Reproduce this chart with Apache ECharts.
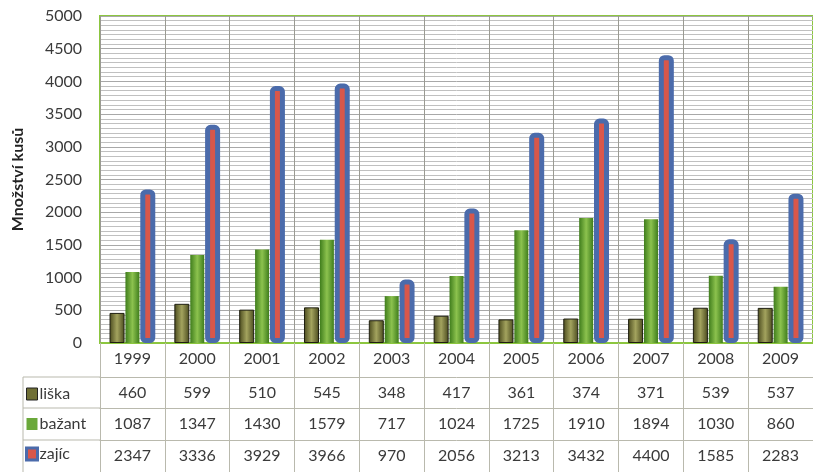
<!DOCTYPE html>
<html><head><meta charset="utf-8">
<script src="https://cdn.jsdelivr.net/npm/echarts@6/dist/echarts.min.js"></script>
<style>html,body{margin:0;padding:0;background:#fff}#c{width:813px;height:472px}</style>
</head><body><div id="c"></div>
<script>
var years = ['1999','2000','2001','2002','2003','2004','2005','2006','2007','2008','2009'];
var liska = [460,599,510,545,348,417,361,374,371,539,537];
var bazant = [1087,1347,1430,1579,717,1024,1725,1910,1894,1030,860];
var zajic = [2347,3336,3929,3966,970,2056,3213,3432,4400,1585,2283];
var seriesNames = ['liška','bažant','zajíc'];
var yTitle = 'Množství kusů';

var FONT = 'Lato';
var TXT = '#3a3a3a';
var TABLE_LINE = '#b9b9ad';

function grad(edge, mid){
  return new echarts.graphic.LinearGradient(0,0,1,0,[
    {offset:0,color:edge},{offset:0.5,color:mid},{offset:1,color:edge}]);
}

function tableAxis(values, offset){
  return {
    type:'category', gridIndex:0, position:'bottom', offset:offset,
    data: values.map(String), boundaryGap:true,
    axisLine:{show:true, lineStyle:{color:TABLE_LINE, width:1}},
    axisTick:{show:false}, splitLine:{show:false},
    axisLabel:{interval:0, margin:8, color:TXT, fontFamily:FONT, fontSize:16}
  };
}

var chart = echarts.init(document.getElementById('c'), null, {renderer:'canvas'});
chart.setOption({
  backgroundColor:'#fff',
  animation:false,
  grid:{left:100, top:16, width:718, bottom:129, show:true, borderColor:'#8cc63f', borderWidth:2, backgroundColor:'transparent'},
  legend:{
    orient:'vertical', left:25, top:386, bottom:0, padding:0, itemGap:14, itemWidth:11, itemHeight:12,
    icon:'rect', selectedMode:false,
    textStyle:{color:TXT, fontFamily:FONT, fontSize:16, padding:[0,0,0,-3]},
    data:[
      {name:seriesNames[0], itemStyle:{color:'#6f6f35', borderColor:'#222', borderWidth:1}},
      {name:seriesNames[1], itemStyle:{color:'#6aa83a', borderWidth:0}},
      {name:seriesNames[2], itemStyle:{color:'#d9574a', borderColor:'#4b6bab', borderWidth:3}}
    ]
  },
  xAxis:[
    {
      type:'category', gridIndex:0, position:'bottom', data:years, boundaryGap:true,
      axisLine:{show:true, lineStyle:{color:'#8cc63f', width:2}},
      axisTick:{show:true, length:129, lineStyle:{color:TABLE_LINE, width:1}},
      splitLine:{show:true, lineStyle:{color:'#9a9a92', width:1}},
      axisLabel:{interval:0, margin:8, color:TXT, fontFamily:FONT, fontSize:16}
    },
    tableAxis(liska, 34),
    tableAxis(bazant, 65),
    tableAxis(zajic, 97)
  ],
  yAxis:{
    type:'value', min:0, max:5000, interval:500,
    name:yTitle, nameLocation:'middle', nameRotate:90, nameGap:74,
    nameTextStyle:{color:'#222', fontFamily:FONT, fontSize:16, fontWeight:'bold'},
    axisLine:{show:false}, axisTick:{show:false},
    axisLabel:{margin:18, color:TXT, fontFamily:FONT, fontSize:16, formatter:function(v){return String(v);}},
    splitLine:{show:true, lineStyle:{color:'#a8a8a8', width:1}},
    minorTick:{show:true, splitNumber:7, length:0, lineStyle:{color:'rgba(0,0,0,0)'}},
    minorSplitLine:{show:true, lineStyle:{color:'#c0c0c0', width:1, type:'solid'}}
  },
  series:[
    {name:seriesNames[0], type:'bar', data:liska, barWidth:15, barGap:'6%', barCategoryGap:'26%',
     itemStyle:{color:grad('#4a4a1e','#a3a35e'), borderColor:'#1e1e10', borderWidth:1}},
    {name:seriesNames[1], type:'bar', data:bazant, barWidth:14, barGap:'6%',
     itemStyle:{color:grad('#3f7d1c','#8cc24e'), borderWidth:0}},
    {name:seriesNames[2], type:'bar', data:zajic, barWidth:15, barGap:'6%',
     itemStyle:{color:'#d9574a', borderColor:'#4b6bab', borderWidth:5, borderRadius:3}}
  ],
  graphic:[
    {type:'line', shape:{x1:23,y1:377,x2:100,y2:377}, style:{stroke:TABLE_LINE, lineWidth:1}},
    {type:'line', shape:{x1:23,y1:408,x2:100,y2:408}, style:{stroke:TABLE_LINE, lineWidth:1}},
    {type:'line', shape:{x1:23,y1:440,x2:100,y2:440}, style:{stroke:TABLE_LINE, lineWidth:1}},
    {type:'line', shape:{x1:23,y1:377,x2:23,y2:472}, style:{stroke:TABLE_LINE, lineWidth:1}}
  ]
});
</script></body></html>
